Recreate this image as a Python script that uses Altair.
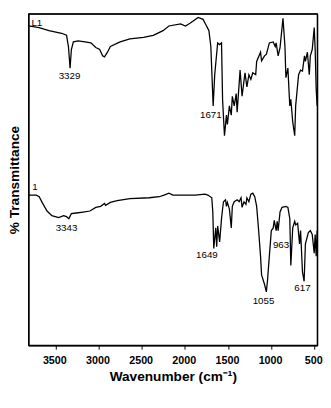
import altair as alt
import pandas as pd

# Upper spectrum (L1): wavenumber (cm-1) and % transmittance (arbitrary offset scale)
top_wn = [3811, 3687, 3574, 3427, 3370, 3348, 3329, 3314, 3291, 3235, 3156, 3088, 3031, 2986,
          2952, 2930, 2896, 2862, 2749, 2636, 2478, 2365, 2252, 2184, 2048, 1992, 1935, 1845,
          1788, 1766, 1732, 1720, 1698, 1671, 1653, 1619, 1596, 1574, 1562, 1540, 1517, 1506,
          1483, 1461, 1449, 1427, 1404, 1393, 1359, 1336, 1302, 1280, 1257, 1234, 1212, 1178,
          1167, 1122, 1110, 1076, 1054, 1020, 975, 952, 941, 918, 896, 862, 839, 828, 805, 783,
          771, 749, 726, 715, 681, 658, 636, 613, 602, 579, 557, 545, 523, 500, 489, 477, 466]
top_t = [96.3, 95.8, 94.9, 94.1, 93.5, 90.1, 83.6, 89.2, 91.5, 91.8, 91.5, 91.2, 89.8, 89.2,
         87.3, 87.0, 88.4, 90.1, 91.5, 92.4, 92.9, 93.5, 94.9, 96.3, 96.9, 96.3, 97.2, 98.9,
         98.3, 97.2, 95.5, 94.9, 90.1, 72.2, 81.6, 91.2, 90.7, 91.2, 74.2, 63.2, 69.4, 66.6,
         72.2, 69.4, 75.1, 72.2, 75.9, 70.3, 83.0, 75.1, 82.2, 77.9, 81.6, 80.2, 82.2, 81.6,
         85.6, 88.4, 85.8, 87.3, 87.8, 91.2, 91.5, 90.1, 91.2, 87.3, 89.8, 98.6, 90.1, 80.7,
         83.6, 72.2, 74.2, 67.4, 63.2, 72.2, 81.6, 83.0, 82.7, 87.3, 85.6, 88.4, 81.6, 87.3,
         89.2, 95.8, 89.2, 77.1, 72.2]

# Lower spectrum (1)
bot_wn = [3811, 3720, 3687, 3653, 3596, 3540, 3461, 3404, 3370, 3343, 3314, 3257, 3178, 3099,
          3031, 2975, 2930, 2918, 2862, 2783, 2636, 2410, 2297, 2240, 2184, 2138, 2026, 1879,
          1766, 1732, 1687, 1675, 1664, 1641, 1630, 1619, 1596, 1574, 1562, 1551, 1528, 1517,
          1506, 1483, 1461, 1449, 1427, 1393, 1370, 1348, 1336, 1314, 1291, 1280, 1257, 1234,
          1212, 1189, 1167, 1144, 1122, 1110, 1076, 1055, 1042, 1020, 997, 975, 963, 941, 929,
          918, 896, 873, 828, 805, 783, 771, 749, 726, 715, 692, 670, 658, 636, 617, 602, 568,
          545, 523, 500, 489, 477, 466]
bot_t = [45.3, 45.3, 44.8, 43.1, 40.5, 39.1, 38.5, 39.1, 38.8, 38.2, 39.7, 39.9, 40.2, 40.5,
         41.6, 41.9, 42.8, 42.2, 43.1, 43.6, 44.2, 44.5, 44.8, 45.3, 45.9, 45.3, 45.3, 45.3,
         45.6, 45.3, 44.5, 40.2, 29.2, 35.4, 29.7, 36.0, 31.2, 38.2, 41.1, 43.3, 43.9, 41.9,
         43.1, 41.1, 35.4, 41.9, 43.3, 43.9, 43.3, 44.5, 41.6, 43.3, 42.5, 44.5, 43.3, 45.6,
         45.9, 44.8, 41.9, 34.6, 26.9, 21.2, 18.4, 16.1, 19.3, 26.9, 34.6, 35.4, 37.7, 34.6,
         37.4, 34.6, 40.2, 41.6, 41.9, 41.6, 38.2, 24.1, 35.4, 37.4, 36.3, 36.8, 30.6, 34.6,
         22.1, 19.3, 30.6, 34.0, 34.6, 33.4, 27.8, 33.4, 26.9, 34.6]

# Annotations
lab_text = ["L1", "3329", "1671", "1", "3343", "1649", "963", "1055", "617"]
lab_wn = [3777, 3336, 1698, 3766, 3370, 1743, 884, 1088, 636]
lab_t = [96.3, 80.2, 68.6, 46.7, 34.6, 26.3, 29.2, 12.5, 16.4]
lab_align = ["left", "center", "center", "left", "center", "center", "center", "center", "center"]

x_ticks = [3500, 3000, 2500, 2000, 1500, 1000, 500]

rows = []
for i, (w, t) in enumerate(zip(top_wn, top_t)):
    rows.append({"wn": w, "t": t, "series": "L1", "o": i})
for i, (w, t) in enumerate(zip(bot_wn, bot_t)):
    rows.append({"wn": w, "t": t, "series": "1", "o": i})
df = pd.DataFrame(rows)

labels = pd.DataFrame({"text": lab_text, "wn": lab_wn, "t": lab_t, "align": lab_align})

W, H = 296, 340

xscale = alt.Scale(domain=[466, 3811], reverse=True, nice=False, zero=False)
yscale = alt.Scale(domain=[0, 100], nice=False, zero=False)

frame_axis = dict(labels=False, ticks=False, grid=False, title=None, domain=True,
                  domainColor="black", domainWidth=1.3)

lines = alt.Chart(df).mark_line(color="black", strokeWidth=1.3).encode(
    x=alt.X("wn:Q", scale=xscale,
            axis=alt.Axis(title="Wavenumber (cm⁻¹)", values=x_ticks, format="d",
                          grid=False, domain=True, domainColor="black", domainWidth=1.3,
                          ticks=True, tickSize=4,
                          tickColor="black", tickWidth=1, labelPadding=6, labelOffset=-1,
                          labelFont="Liberation Sans", labelFontWeight="bold",
                          labelFontSize=11, labelColor="black",
                          titleFont="Liberation Sans", titleFontWeight="bold",
                          titleFontSize=14, titleColor="black", titlePadding=4)),
    y=alt.Y("t:Q", scale=yscale,
            axis=alt.Axis(title="% Transmittance", labels=False, ticks=False,
                          domain=True, domainColor="black", domainWidth=1.3,
                          grid=False, minExtent=0,
                          titleX=-7, titleY=H / 2, titleAngle=270,
                          titleBaseline="bottom", titleAlign="center",
                          titleFont="Liberation Sans", titleFontWeight="bold",
                          titleFontSize=14, titleColor="black")),
    detail="series:N",
    order="o:Q",
)

# Left-aligned labels also carry the top and right frame edges (axis domains only)
text_left = alt.Chart(labels[labels["align"] == "left"]).mark_text(
    align="left", baseline="alphabetic", font="Liberation Sans", fontSize=10, color="black"
).encode(
    x=alt.X("wn:Q", scale=xscale, axis=alt.Axis(orient="top", minExtent=0, **frame_axis)),
    y=alt.Y("t:Q", scale=yscale, axis=alt.Axis(orient="right", minExtent=0, **frame_axis)),
    text="text:N",
)

text_center = alt.Chart(labels[labels["align"] == "center"]).mark_text(
    align="center", baseline="alphabetic", font="Liberation Sans", fontSize=10, color="black"
).encode(
    x=alt.X("wn:Q", scale=xscale, axis=None),
    y=alt.Y("t:Q", scale=yscale, axis=None),
    text="text:N",
)

chart = alt.layer(lines, text_left, text_center).resolve_axis(
    x="independent", y="independent"
).properties(
    width=W, height=H,
    autosize=alt.AutoSizeParams(type="none"),
    padding={"left": 21, "top": 1, "right": 6, "bottom": 42},
).configure(background="white").configure_view(stroke="black", strokeWidth=1.3)

chart.save("out.html", embed_options={"renderer": "svg", "actions": False})
